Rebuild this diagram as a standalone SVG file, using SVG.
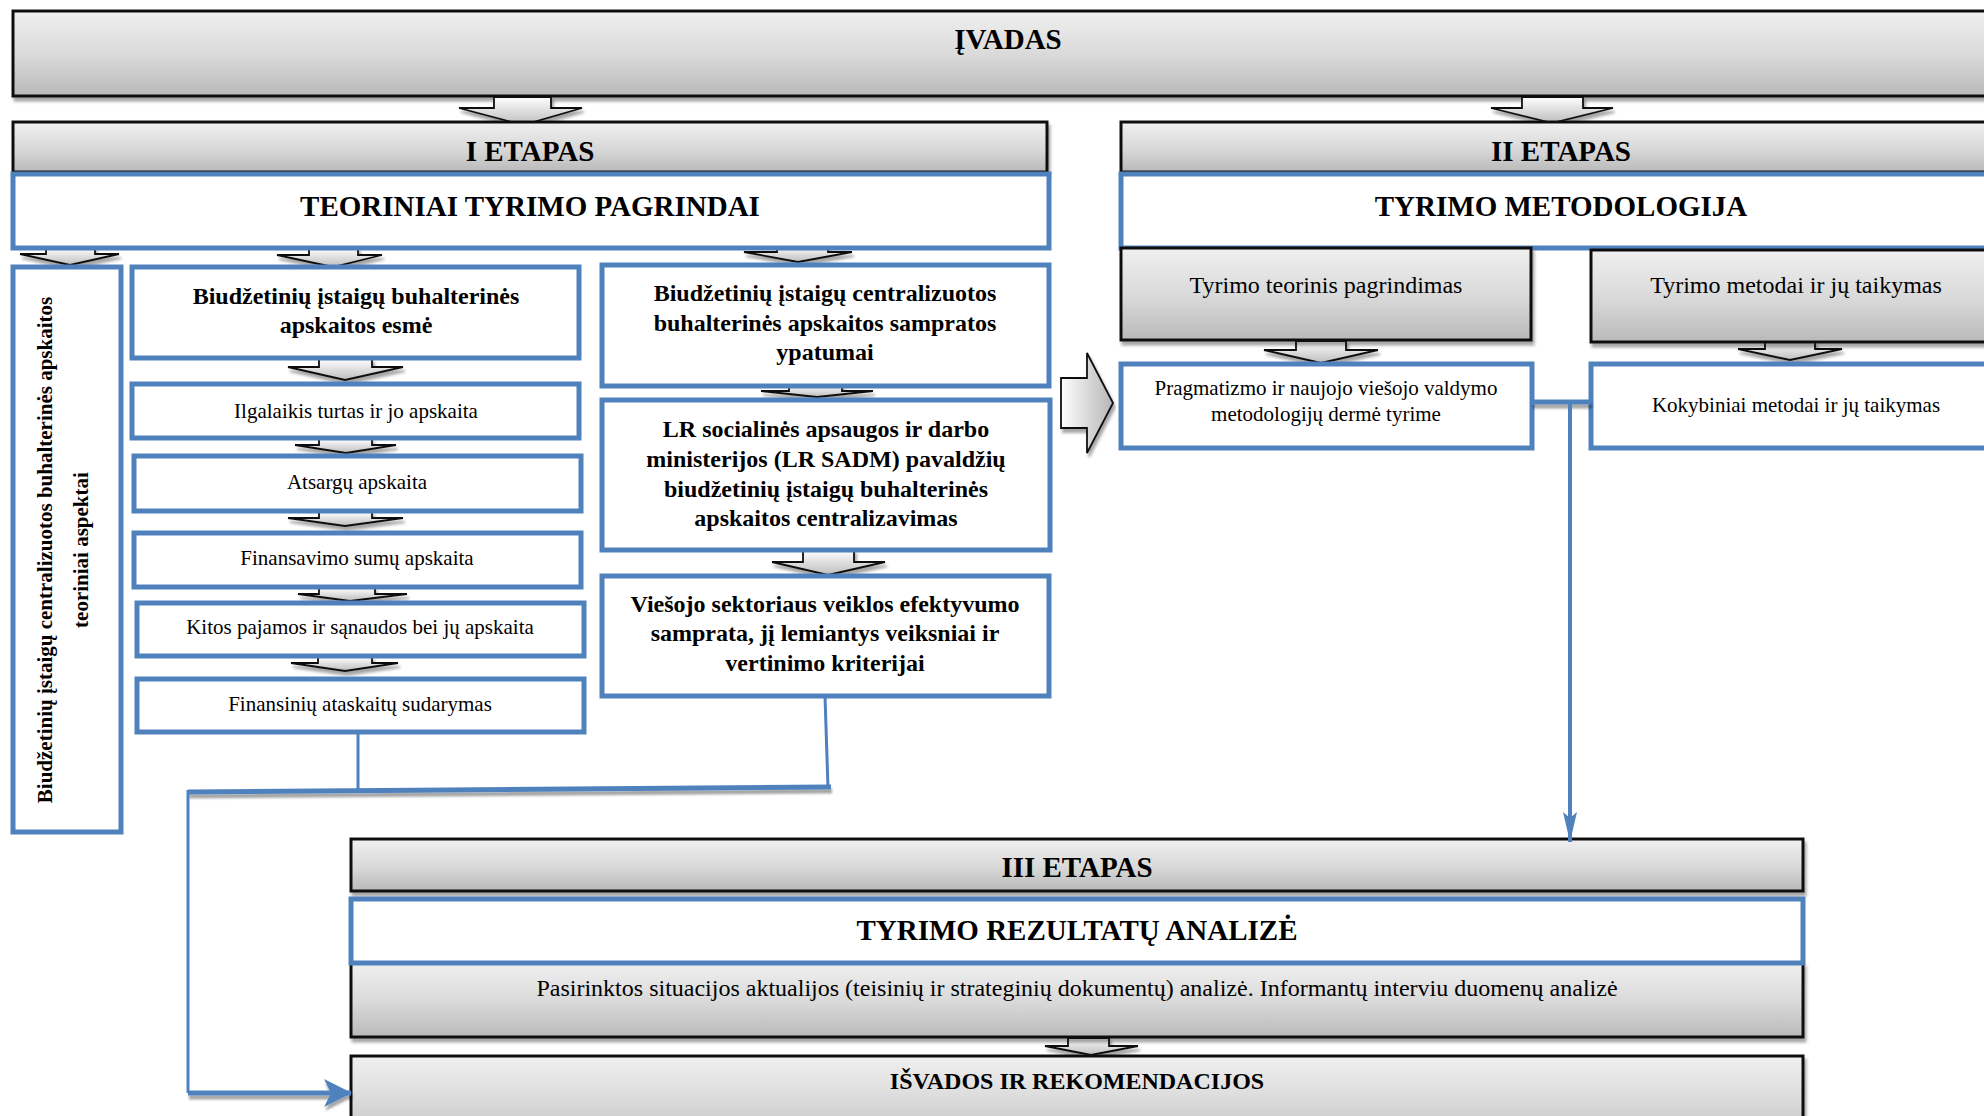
<svg xmlns="http://www.w3.org/2000/svg" width="1984" height="1116" viewBox="0 0 1984 1116">
<defs>
<linearGradient id="gv" x1="0" y1="0" x2="0" y2="1">
<stop offset="0" stop-color="#f0f0f0"/>
<stop offset="0.55" stop-color="#d8d8d8"/>
<stop offset="1" stop-color="#b9b9b9"/>
</linearGradient>
<linearGradient id="ga" x1="0" y1="0" x2="0" y2="1">
<stop offset="0" stop-color="#ffffff"/>
<stop offset="1" stop-color="#bdbdbd"/>
</linearGradient>
<linearGradient id="gh" x1="0" y1="0" x2="1" y2="0">
<stop offset="0" stop-color="#ffffff"/>
<stop offset="1" stop-color="#b5b5b5"/>
</linearGradient>
<filter id="sh" x="-5%" y="-20%" width="110%" height="150%">
<feDropShadow dx="2" dy="4" stdDeviation="1.5" flood-color="#000" flood-opacity="0.35"/>
</filter>
<filter id="shl" filterUnits="userSpaceOnUse" x="0" y="0" width="1984" height="1116">
<feDropShadow dx="1" dy="4" stdDeviation="1" flood-color="#000" flood-opacity="0.35"/>
</filter>
<marker id="stv" viewBox="0 0 30 14" refX="30" refY="7" markerWidth="30" markerHeight="14" markerUnits="userSpaceOnUse" orient="auto">
<path d="M0,0 L30,7 L0,14 L6,7 Z" fill="#4f81bd"/>
</marker>
<marker id="sth" viewBox="0 0 28 28" refX="27" refY="14" markerWidth="28" markerHeight="28" markerUnits="userSpaceOnUse" orient="auto">
<path d="M0,0 L28,14 L0,28 L7,14 Z" fill="#4f81bd"/>
</marker>
<style>
.gbox{fill:url(#gv);stroke:#111;stroke-width:3;filter:url(#sh)}
.bbox{fill:#fff;stroke:#4f81bd;stroke-width:5}
.arr{fill:url(#ga);stroke:#111;stroke-width:1.8;stroke-linejoin:miter;filter:url(#sh)}
.conn{fill:none;stroke:#4f81bd;stroke-width:3}
.thick{fill:none;stroke:#4f81bd;stroke-width:5;filter:url(#shl)}
text{font-family:"Liberation Serif","Times New Roman",serif;fill:#000;text-anchor:middle}
.h{font-size:29px;font-weight:bold}
.hs{font-size:24px;font-weight:bold}
.b{font-size:24px;font-weight:bold}
.vb{font-size:21px;font-weight:bold}
.r{font-size:21px}
.rl{font-size:24px}
</style>
</defs>

<g id="ivadas">
<rect class="gbox" x="13" y="11" width="2000" height="85"/>
<text class="h" x="1008" y="49">ĮVADAS</text>
</g>

<g id="arrows-block">
<path class="arr" d="M494,97 H551 V108 H582 L523,125 L459,108 H494 Z"/>
<path class="arr" d="M1522,97 H1583 V108 H1613 L1552,123 L1491,108 H1522 Z"/>
<path class="arr" d="M46,248 H95 V254 H119 L70,265 L20,254 H46 Z"/>
<path class="arr" d="M309,248 H358 V255 H382 L333,267 L277,255 H309 Z"/>
<path class="arr" d="M777,246 H828 V252 H852 L798,262 L744,252 H777 Z"/>
<path class="arr" d="M319,359 H372 V367 H403 L345,380 L288,367 H319 Z"/>
<path class="arr" d="M319,439 H372 V445 H396 L346,453 L295,445 H319 Z"/>
<path class="arr" d="M319,512 H372 V518 H403 L345,526 L288,518 H319 Z"/>
<path class="arr" d="M319,588 H375 V594 H407 L350,601 L298,594 H319 Z"/>
<path class="arr" d="M318,657 H372 V663 H398 L345,671 L291,663 H318 Z"/>
<path class="arr" d="M789,385 H842 V391 H873 L817,397 L761,391 H789 Z"/>
<path class="arr" d="M803,550 H854 V562 H885 L828,575 L772,562 H803 Z"/>
<path class="arr" d="M1296,341 H1346 V350 H1378 L1321,363 L1264,350 H1296 Z"/>
<path class="arr" d="M1765,342 H1815 V349 H1842 L1790,360 L1738,349 H1765 Z"/>
<path class="arr" d="M1068,1038 H1109 V1046 H1138 L1091,1055 L1045,1046 H1068 Z"/>
<path class="arr" d="M1061,378 H1087 V353 L1113,403 L1087,453 V428 H1061 Z" style="fill:url(#gh)"/>
</g>

<g id="etapas1">
<rect class="gbox" x="13" y="122" width="1034" height="50"/>
<text class="h" x="530" y="161">I ETAPAS</text>
</g>
<g id="teoriniai">
<rect class="bbox" x="13" y="174" width="1036" height="74"/>
<text class="h" x="530" y="216">TEORINIAI TYRIMO PAGRINDAI</text>
</g>
<g id="etapas2">
<rect class="gbox" x="1121" y="122" width="900" height="50"/>
<text class="h" x="1561" y="161">II ETAPAS</text>
</g>
<g id="metodologija">
<rect class="bbox" x="1121" y="174" width="900" height="74"/>
<text class="h" x="1561" y="216">TYRIMO METODOLOGIJA</text>
</g>
<g id="teorinis">
<rect class="gbox" x="1121" y="248" width="410" height="92"/>
<text class="rl" x="1326" y="293">Tyrimo teorinis pagrindimas</text>
</g>
<g id="metodai">
<rect class="gbox" x="1591" y="250" width="500" height="92"/>
<text class="rl" x="1796" y="293">Tyrimo metodai ir jų taikymas</text>
</g>
<g id="pragmatizmo">
<rect class="bbox" x="1121" y="364" width="411" height="84"/>
<text class="r" x="1326" y="395">Pragmatizmo ir naujojo viešojo valdymo</text>
<text class="r" x="1326" y="421">metodologijų dermė tyrime</text>
</g>
<g id="kokybiniai">
<rect class="bbox" x="1591" y="364" width="500" height="84"/>
<text class="r" x="1796" y="412">Kokybiniai metodai ir jų taikymas</text>
</g>

<g id="vertikalus">
<rect class="bbox" x="13" y="267" width="108" height="565"/>
<text class="vb" x="52" y="550" transform="rotate(-90 52 550)">Biudžetinių įstaigų centralizuotos buhalterinės apskaitos</text>
<text class="vb" x="88" y="550" transform="rotate(-90 88 550)">teoriniai aspektai</text>
</g>
<g id="esme">
<rect class="bbox" x="132" y="267" width="447" height="91"/>
<text class="b" x="356" y="304">Biudžetinių įstaigų buhalterinės</text>
<text class="b" x="356" y="333">apskaitos esmė</text>
</g>
<g id="ilgalaikis">
<rect class="bbox" x="132" y="384" width="447" height="54"/>
<text class="r" x="356" y="418">Ilgalaikis turtas ir jo apskaita</text>
</g>
<g id="atsargu">
<rect class="bbox" x="134" y="456" width="447" height="55"/>
<text class="r" x="357" y="489">Atsargų apskaita</text>
</g>
<g id="finansavimo">
<rect class="bbox" x="134" y="533" width="447" height="54"/>
<text class="r" x="357" y="565">Finansavimo sumų apskaita</text>
</g>
<g id="kitos">
<rect class="bbox" x="137" y="603" width="447" height="53"/>
<text class="r" x="360" y="634">Kitos pajamos ir sąnaudos bei jų apskaita</text>
</g>
<g id="finansiniu">
<rect class="bbox" x="137" y="679" width="447" height="53"/>
<text class="r" x="360" y="711">Finansinių ataskaitų sudarymas</text>
</g>
<g id="samprata">
<rect class="bbox" x="602" y="265" width="447" height="121"/>
<text class="b" x="825" y="301">Biudžetinių įstaigų centralizuotos</text>
<text class="b" x="825" y="331">buhalterinės apskaitos sampratos</text>
<text class="b" x="825" y="360">ypatumai</text>
</g>
<g id="sadm">
<rect class="bbox" x="602" y="400" width="448" height="150"/>
<text class="b" x="826" y="437">LR socialinės apsaugos ir darbo</text>
<text class="b" x="826" y="467">ministerijos (LR SADM) pavaldžių</text>
<text class="b" x="826" y="497">biudžetinių įstaigų buhalterinės</text>
<text class="b" x="826" y="526">apskaitos centralizavimas</text>
</g>
<g id="efektyvumas">
<rect class="bbox" x="602" y="576" width="447" height="120"/>
<text class="b" x="825" y="612">Viešojo sektoriaus veiklos efektyvumo</text>
<text class="b" x="825" y="641">samprata, jį lemiantys veiksniai ir</text>
<text class="b" x="825" y="671">vertinimo kriterijai</text>
</g>

<g id="etapas3">
<rect class="gbox" x="351" y="839" width="1452" height="52"/>
<text class="h" x="1077" y="877">III ETAPAS</text>
</g>
<g id="pasirinktos">
<rect class="gbox" x="351" y="963" width="1452" height="74"/>
<text class="rl" x="1077" y="996">Pasirinktos situacijos aktualijos (teisinių ir strateginių dokumentų) analizė. Informantų interviu duomenų analizė</text>
</g>
<g id="rezultatu">
<rect class="bbox" x="351" y="899" width="1452" height="64"/>
<text class="h" x="1077" y="940">TYRIMO REZULTATŲ ANALIZĖ</text>
</g>
<g id="isvados">
<rect class="gbox" x="351" y="1056" width="1452" height="90"/>
<text class="hs" x="1077" y="1089">IŠVADOS IR REKOMENDACIJOS</text>
</g>

<g id="connectors">
<path class="thick" d="M1532,402 H1591"/>
<path class="conn" d="M1570,402 V842" style="stroke-width:4" marker-end="url(#stv)"/>
<path class="conn" d="M358,732 V790"/>
<path class="conn" d="M825,696 L828,788"/>
<path class="thick" d="M188,792 L831,787"/>
<path class="conn" d="M188,790 V1093"/>
<path class="thick" d="M188,1093 H351" marker-end="url(#sth)"/>
</g>
</svg>
